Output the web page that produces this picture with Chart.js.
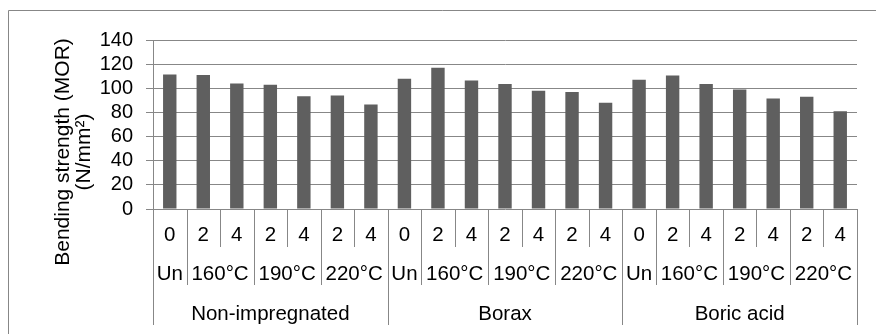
<!DOCTYPE html>
<html>
<head>
<meta charset="utf-8">
<script src="https://cdn.jsdelivr.net/npm/chart.js@4"></script>
<style>
  body { margin: 0; background: #fff; }
</style>
</head>
<body>
<canvas id="myChart" width="876" height="334"></canvas>
<script>
// three label levels, one entry per bar
const groups = ['Non-impregnated','Non-impregnated','Non-impregnated','Non-impregnated','Non-impregnated','Non-impregnated','Non-impregnated',
                'Borax','Borax','Borax','Borax','Borax','Borax','Borax',
                'Boric acid','Boric acid','Boric acid','Boric acid','Boric acid','Boric acid','Boric acid'];
const temps = ['Un','160°C','160°C','190°C','190°C','220°C','220°C',
               'Un','160°C','160°C','190°C','190°C','220°C','220°C',
               'Un','160°C','160°C','190°C','190°C','220°C','220°C'];
const hours = ['0','2','4','2','4','2','4',
               '0','2','4','2','4','2','4',
               '0','2','4','2','4','2','4'];

// bending strength values (MOR, N/mm2)
const nonImpregnated = [111.5, 111, 104, 103, 93.5, 94, 86.5];
const borax = [108, 117, 106.5, 103.5, 98, 97, 88];
const boricAcid = [107, 110.5, 103.5, 99, 91.5, 93, 81];

const yTicksMax = 140;
const yStep = 20;
const yTitle = ['Bending strength (MOR)', '(N/mm²)'];

const FONT = "'Liberation Sans', Arial, sans-serif";
const GRID = '#878787';

const labels = hours.map((h, i) => groups[i] + ' ' + temps[i] + ' ' + h);
const values = nonImpregnated.concat(borax, boricAcid);

// draws the 3-level category axis, the y title and the outer frame
const extrasPlugin = {
  id: 'extras',
  afterDraw(chart) {
    const ctx = chart.ctx;
    const x = chart.scales.x;
    const top = chart.chartArea.bottom;
    const n = labels.length;
    const w = (x.right - x.left) / n;
    const edge = k => Math.round(x.left + k * w) + 0.5;
    const rowBottoms = [247, 285, 325];
    const rowBase = [241, 280, 320];

    ctx.save();
    ctx.strokeStyle = GRID;
    ctx.lineWidth = 1;
    // separators: the deepest level that changes decides the length
    for (let k = 0; k <= n; k++) {
      let depth = 0;
      if (k === 0 || k === n || groups[k] !== groups[k - 1]) depth = 2;
      else if (temps[k] !== temps[k - 1]) depth = 1;
      ctx.beginPath();
      ctx.moveTo(edge(k), top);
      ctx.lineTo(edge(k), rowBottoms[depth]);
      ctx.stroke();
    }

    ctx.fillStyle = '#000';
    ctx.font = '20.5px ' + FONT;
    ctx.textAlign = 'center';
    ctx.textBaseline = 'alphabetic';
    // level 1
    hours.forEach((h, i) => ctx.fillText(h, x.left + (i + 0.5) * w, rowBase[0]));
    // level 2 and 3: centre over each run of equal labels
    [[temps, 1], [groups, 2]].forEach(([arr, row]) => {
      let start = 0;
      for (let i = 1; i <= n; i++) {
        const brk = i === n || arr[i] !== arr[start] || groups[i] !== groups[start];
        if (brk) {
          ctx.fillText(arr[start], x.left + ((start + i) / 2) * w, rowBase[row]);
          start = i;
        }
      }
    });

    // y axis title, two lines rotated
    ctx.font = '21px ' + FONT;
    ctx.translate(0, 152);
    ctx.rotate(-Math.PI / 2);
    ctx.fillText(yTitle[0], 0, 68.5);
    ctx.fillText(yTitle[1], 0, 90);
    ctx.restore();

    // outer frame (runs off the right and bottom)
    ctx.save();
    ctx.strokeStyle = GRID;
    ctx.lineWidth = 1;
    ctx.beginPath();
    ctx.moveTo(8.5, 334);
    ctx.lineTo(8.5, 10.5);
    ctx.lineTo(876, 10.5);
    ctx.stroke();
    ctx.restore();
  }
};

const ctx = document.getElementById('myChart').getContext('2d');
new Chart(ctx, {
  type: 'bar',
  data: {
    labels: labels,
    datasets: [{
      data: values,
      backgroundColor: '#5f5f5f',
      borderWidth: 0,
      barPercentage: 0.4,
      categoryPercentage: 1.0
    }]
  },
  options: {
    responsive: false,
    animation: false,
    devicePixelRatio: 1,
    layout: { padding: { top: 40, right: 19, left: 0, bottom: 0 } },
    plugins: { legend: { display: false }, tooltip: { enabled: false } },
    scales: {
      x: {
        grid: { display: false },
        border: { display: false },
        ticks: { display: false },
        afterFit: s => { s.height = 125; }
      },
      y: {
        min: 0,
        max: yTicksMax,
        ticks: {
          stepSize: yStep,
          autoSkip: false,
          color: '#000',
          padding: 13,
          font: { family: FONT, size: 20 }
        },
        grid: { color: GRID, lineWidth: 1, tickLength: 7, drawTicks: true },
        border: { color: GRID, width: 1 },
        afterFit: s => { s.width = 153; }
      }
    }
  },
  plugins: [extrasPlugin]
});
</script>
</body>
</html>
